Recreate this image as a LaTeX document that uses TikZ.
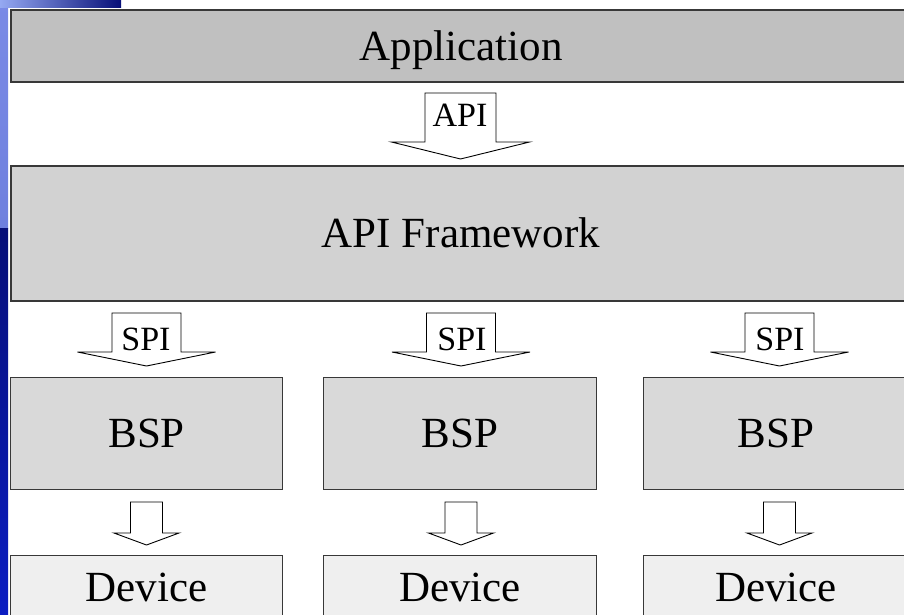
\documentclass[tikz,border=0pt]{standalone}
\usepackage{fontspec}
\setmainfont{Liberation Serif}
\definecolor{appfill}{HTML}{C0C0C0}
\definecolor{fwfill}{HTML}{D2D2D2}
\definecolor{bspfill}{HTML}{D9D9D9}
\definecolor{devfill}{HTML}{EFEFEF}
\definecolor{edge}{HTML}{383838}
\definecolor{peri}{HTML}{7A8AE6}
\definecolor{periB}{HTML}{6F80DE}
\definecolor{navy}{HTML}{070F78}
\definecolor{brightblue}{HTML}{0B1DC2}
\definecolor{lightblue}{HTML}{95A9F2}
\newcommand\blkarrow[6]{%
  \draw[arrowline] ({#1-#5},#2) -- ({#1+#5},#2) -- ({#1+#5},#3) -- ({#1+#6},#3)
    -- (#1,#4) -- ({#1-#6},#3) -- ({#1-#5},#3) -- cycle;}
\begin{document}
\begin{tikzpicture}[x=1pt,y=-1pt,
  bigtext/.style={font=\fontsize{43}{43}\selectfont, text height=28pt, text depth=0pt},
  layerbox/.style={draw=edge, line width=2pt, rectangle, inner sep=0pt, anchor=north west, bigtext},
  unitbox/.style={draw=edge, line width=1.3pt, rectangle, inner sep=0pt, anchor=north west, bigtext},
  arrowline/.style={draw=black, fill=white, line width=0.9pt, line join=miter},
  lbl/.style={font=\fontsize{34}{34}\selectfont, inner sep=0pt, anchor=base}]
\useasboundingbox (0,0) rectangle (904,614);
\clip (0,0) rectangle (904,614);
\fill[white] (0,0) rectangle (904,614);
% slide background edge
\shade[top color=peri, bottom color=periB] (0,0) rectangle (8,228);
\shade[top color=navy, bottom color=brightblue] (0,228) rectangle (8,614);
\shade[left color=lightblue, right color=navy] (0,0) rectangle (121,7);
% layers
\node[layerbox, fill=appfill, minimum width=900pt, minimum height=72pt] (app) at (10,9) {Application};
\node[layerbox, fill=fwfill, minimum width=900pt, minimum height=135pt] (fw) at (10,165) {API Framework};
\node[unitbox, fill=bspfill, minimum width=272pt, minimum height=112pt] (bspA) at (10,377) {BSP};
\node[unitbox, fill=bspfill, minimum width=273pt, minimum height=112pt] (bspB) at (323,377) {BSP};
\node[unitbox, fill=bspfill, minimum width=265pt, minimum height=112pt] (bspC) at (643,377) {BSP};
\node[unitbox, fill=devfill, minimum width=272pt, minimum height=64pt] (devA) at (10,555) {Device};
\node[unitbox, fill=devfill, minimum width=273pt, minimum height=64pt] (devB) at (323,555) {Device};
\node[unitbox, fill=devfill, minimum width=265pt, minimum height=64pt] (devC) at (643,555) {Device};
% block arrows
\blkarrow{460.5}{93}{142}{159}{35.5}{69}
\node[lbl] (apilbl) at (460,126.5) {API};
\blkarrow{146.5}{313}{352}{366}{34.5}{69}
\node[lbl] (spiA) at (146,350) {SPI};
\blkarrow{461}{313}{352}{366}{34.5}{69}
\node[lbl] (spiB) at (462,350) {SPI};
\blkarrow{779.5}{313}{352}{366}{34.5}{69}
\node[lbl] (spiC) at (780,350) {SPI};
\blkarrow{146.5}{502}{533}{545}{16}{32.5}
\blkarrow{461}{502}{533}{545}{16}{32.5}
\blkarrow{779.5}{502}{533}{545}{16}{32.5}
\end{tikzpicture}
\end{document}
